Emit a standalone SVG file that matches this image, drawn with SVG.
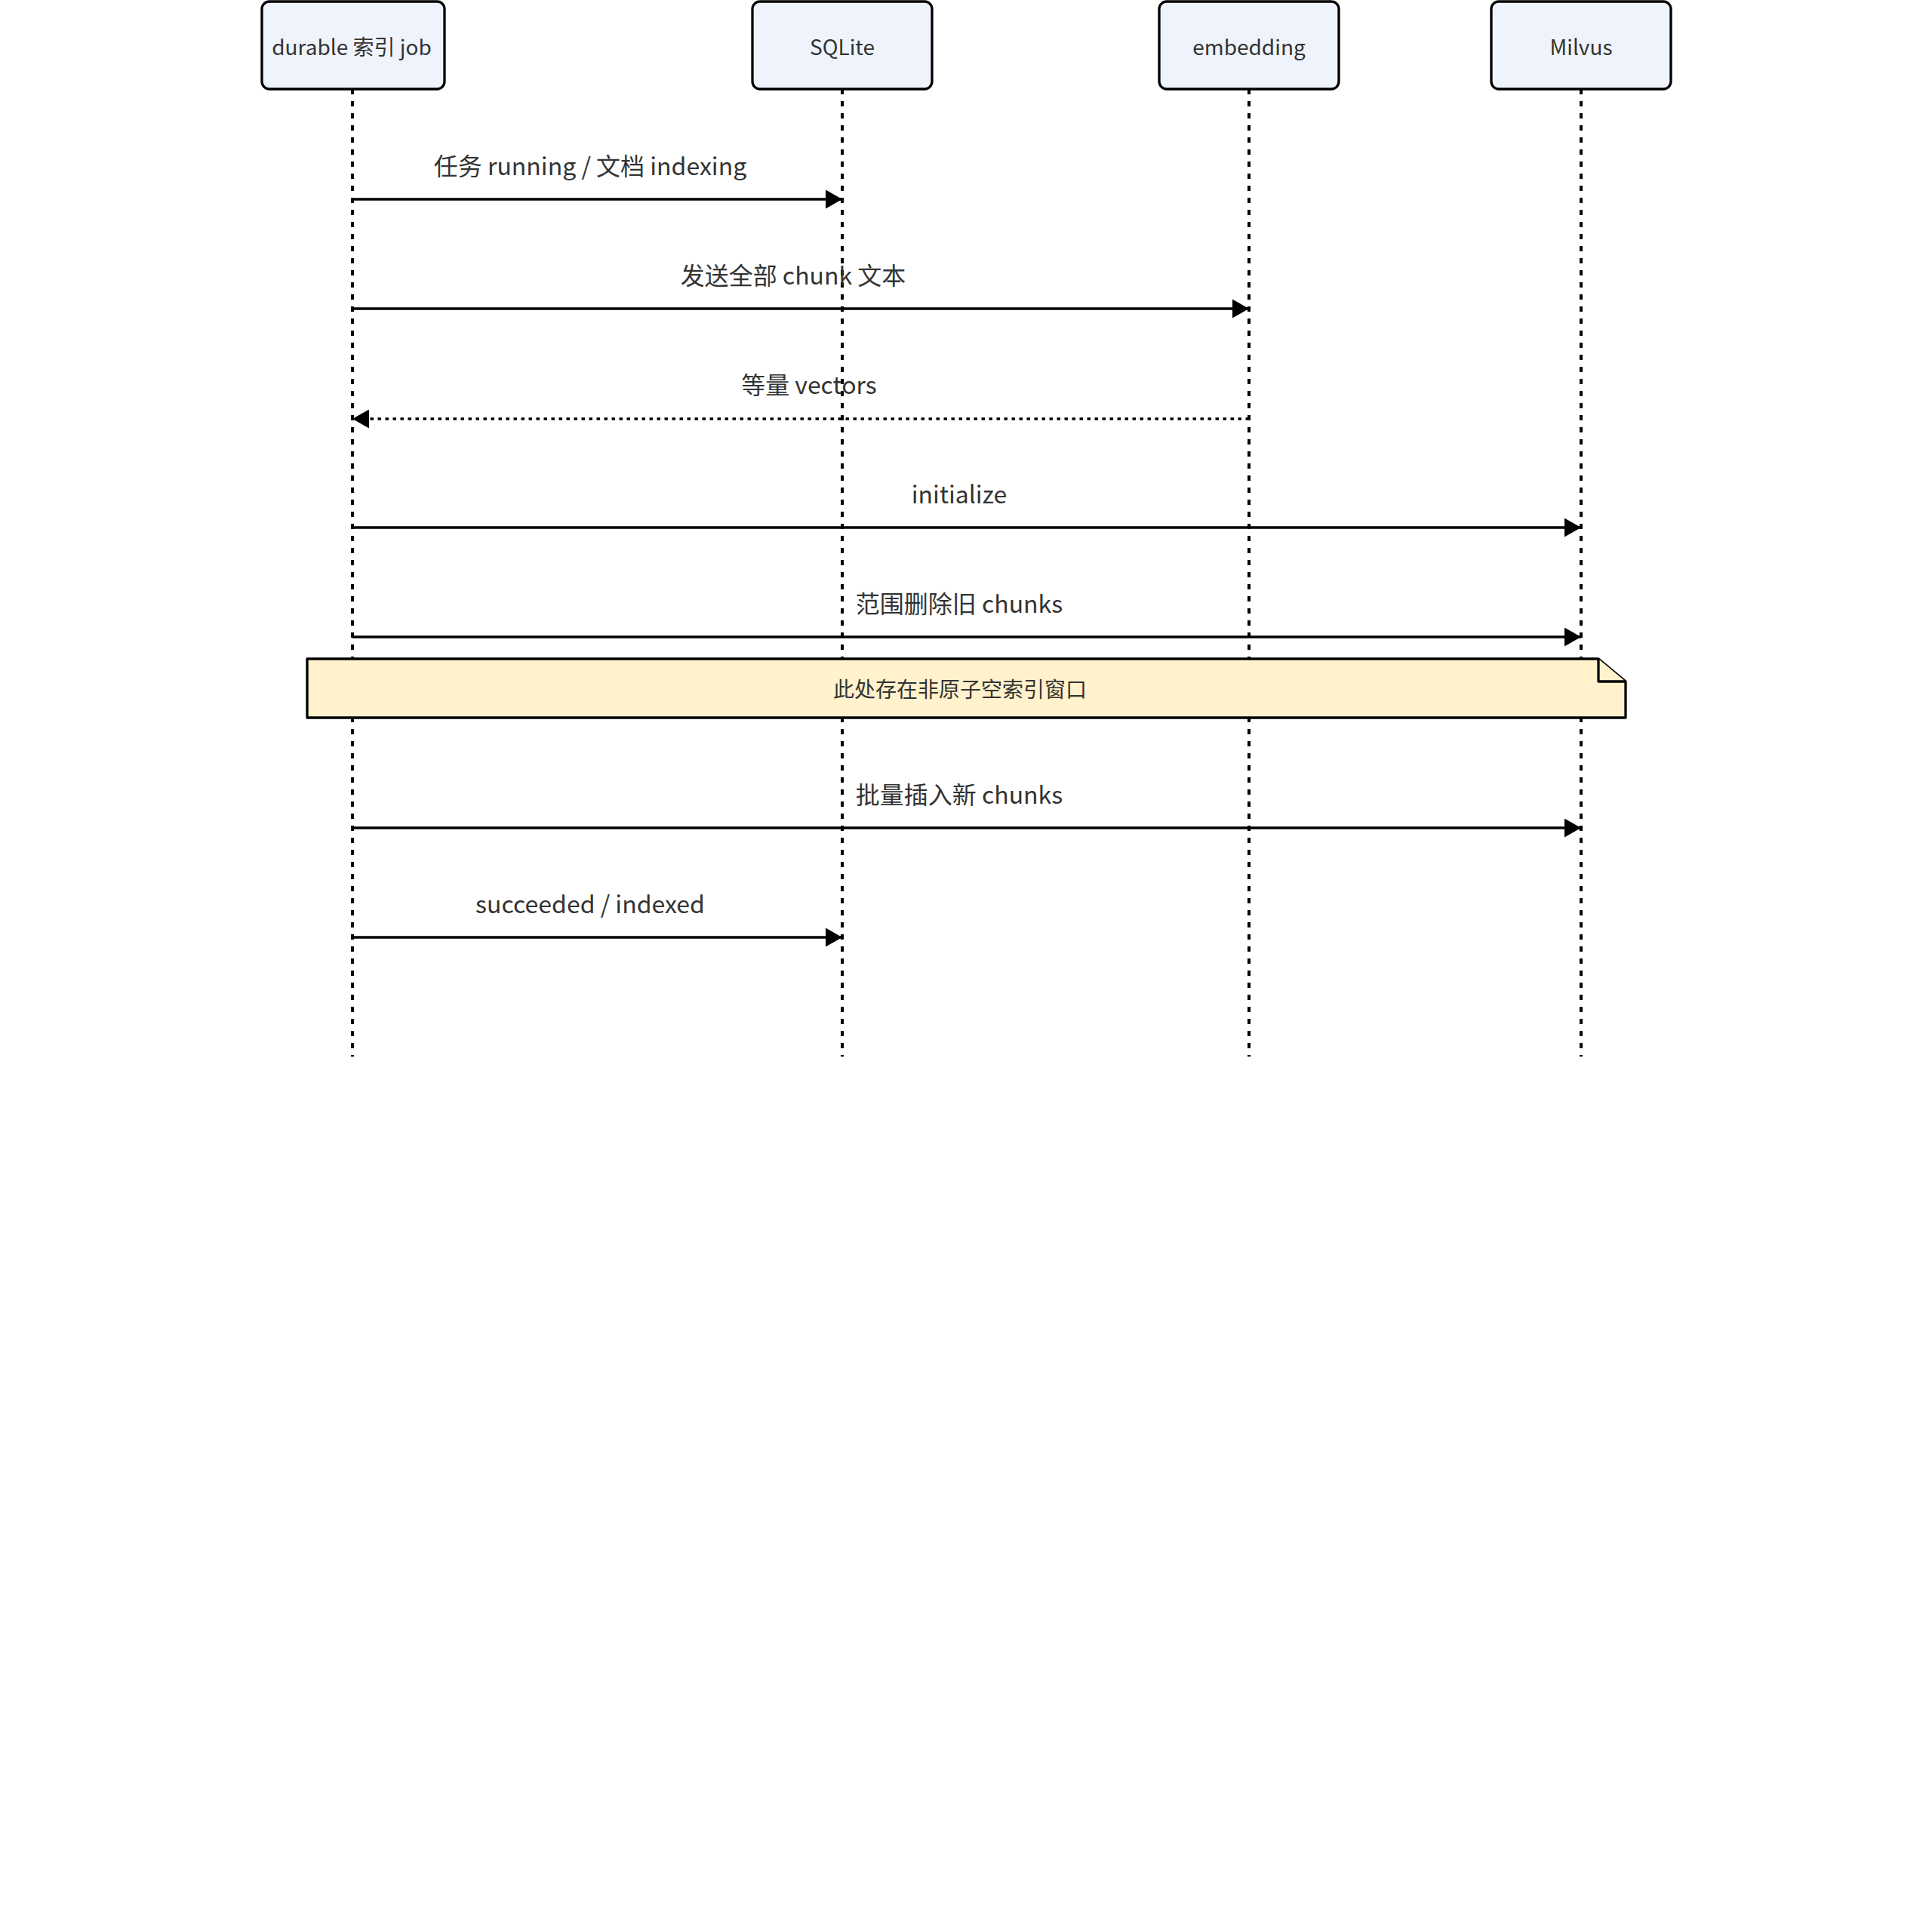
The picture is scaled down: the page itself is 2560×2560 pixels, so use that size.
<svg xmlns="http://www.w3.org/2000/svg" width="2560" height="2560" viewBox="0 0 2560 2560">
  <style>
    .actor rect { fill: #EFF4FC; stroke: #000; stroke-width: 3.3; }
    .actor text { font-family: "Noto Sans CJK SC", "Noto Sans", sans-serif; font-size: 28px; fill: #333; text-anchor: middle; }
    .lifeline { stroke: #000; stroke-width: 4; stroke-dasharray: 7 9; fill: none; }
    .msg { stroke: #000; stroke-width: 3.3; fill: none; }
    .dotted { stroke-dasharray: 4.5 5.5; }
    .label { font-family: "Noto Sans CJK SC", "Noto Sans", sans-serif; font-size: 32px; fill: #333; text-anchor: middle; }
    .note path { fill: #FFF2CC; stroke: #000; stroke-width: 3.3; stroke-linejoin: round; }
    .note text { font-family: "Noto Sans CJK SC", "Noto Sans", sans-serif; font-size: 28px; fill: #333; text-anchor: middle; }
  </style>
  <defs>
    <marker id="arrow" markerUnits="userSpaceOnUse" viewBox="0 0 22 25" refX="22" refY="12.5" markerWidth="22" markerHeight="25" orient="auto">
      <path d="M0,0 L22,12.5 L0,25 Z" fill="#000"/>
    </marker>
  </defs>
  <rect width="2560" height="2560" fill="#fff"/>

  <g id="lifelines">
    <line class="lifeline" x1="467" y1="118" x2="467" y2="1400"/>
    <line class="lifeline" x1="1116" y1="118" x2="1116" y2="1400"/>
    <line class="lifeline" x1="1655" y1="118" x2="1655" y2="1400"/>
    <line class="lifeline" x1="2095" y1="118" x2="2095" y2="1400"/>
  </g>

  <g id="actor-durable" class="actor">
    <rect x="347" y="2" width="242" height="116" rx="10"/>
    <text x="466" y="73">durable 索引 job</text>
  </g>
  <g id="actor-sqlite" class="actor">
    <rect x="997" y="2" width="238" height="116" rx="10"/>
    <text x="1116" y="73">SQLite</text>
  </g>
  <g id="actor-embedding" class="actor">
    <rect x="1536" y="2" width="238" height="116" rx="10"/>
    <text x="1655" y="73">embedding</text>
  </g>
  <g id="actor-milvus" class="actor">
    <rect x="1976" y="2" width="238" height="116" rx="10"/>
    <text x="2095" y="73">Milvus</text>
  </g>

  <g id="connectors">
    <line class="msg" x1="467" y1="264" x2="1116" y2="264" marker-end="url(#arrow)"/>
    <text class="label" x="782" y="232">任务 running / 文档 indexing</text>

    <line class="msg" x1="467" y1="409" x2="1655" y2="409" marker-end="url(#arrow)"/>
    <text class="label" x="1051" y="377">发送全部 chunk 文本</text>

    <line class="msg dotted" x1="1655" y1="555" x2="467" y2="555" marker-end="url(#arrow)"/>
    <text class="label" x="1072" y="522">等量 vectors</text>

    <line class="msg" x1="467" y1="699" x2="2095" y2="699" marker-end="url(#arrow)"/>
    <text class="label" x="1271" y="667">initialize</text>

    <line class="msg" x1="467" y1="844" x2="2095" y2="844" marker-end="url(#arrow)"/>
    <text class="label" x="1271" y="812">范围删除旧 chunks</text>

    <line class="msg" x1="467" y1="1097" x2="2095" y2="1097" marker-end="url(#arrow)"/>
    <text class="label" x="1271" y="1065">批量插入新 chunks</text>

    <line class="msg" x1="467" y1="1242" x2="1116" y2="1242" marker-end="url(#arrow)"/>
    <text class="label" x="782" y="1210">succeeded / indexed</text>
  </g>

  <g id="note" class="note">
    <path d="M407,873 H2118 L2154,903 V951 H407 Z"/>
    <path d="M2118,873 V903 H2154"/>
    <text x="1272" y="924">此处存在非原子空索引窗口</text>
  </g>
</svg>
